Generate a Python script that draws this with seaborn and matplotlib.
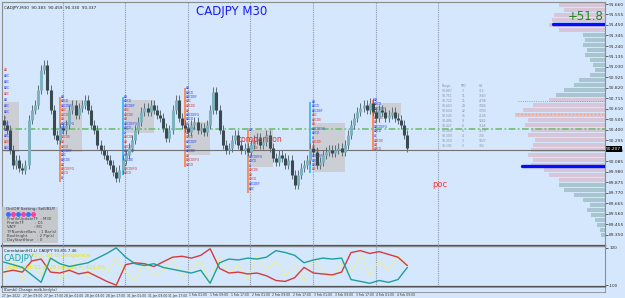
import matplotlib
matplotlib.use("Agg")
import matplotlib.pyplot as plt
import seaborn as sns
import numpy as np
import pandas as pd

# ---------------- data ----------------
closes = [
    90.45, 90.40, 90.20, 90.05, 90.10, 90.02, 90.00, 90.05, 90.50, 90.60,
    90.65, 90.80, 91.00, 91.05, 90.80, 90.60, 90.35, 90.30, 90.42, 90.40,
    90.45, 90.60, 90.65, 90.55, 90.62, 90.65, 90.70, 90.60, 90.45, 90.40,
    90.25, 90.20, 90.15, 90.10, 90.05, 89.98, 89.92, 90.00, 90.10, 90.15,
    90.22, 90.30, 90.40, 90.48, 90.58, 90.62, 90.58, 90.65, 90.60, 90.55,
    90.52, 90.42, 90.32, 90.40, 90.60, 90.70, 90.52, 90.45, 90.42, 90.38,
    90.45, 90.48, 90.40, 90.42, 90.38, 90.45, 90.60, 90.78, 90.60, 90.40,
    90.25, 90.20, 90.22, 90.30, 90.35, 90.25, 90.20, 90.22, 90.18, 90.25,
    90.30, 90.32, 90.25, 90.28, 90.35, 90.22, 90.12, 90.08, 90.15, 90.12,
    90.05, 90.10, 89.95, 89.85, 89.95, 90.02, 90.05, 90.10, 90.22, 90.18,
    90.05, 90.08, 90.15, 90.18, 90.20, 90.17, 90.20, 90.22, 90.18, 90.25,
    90.35, 90.45, 90.52, 90.58, 90.62, 90.65, 90.60, 90.67, 90.58, 90.52,
    90.60, 90.58, 90.52, 90.55, 90.58, 90.52, 90.50, 90.45, 90.35, 90.22,
]
first_open = 90.50

corr_cadjpy = [0.24, 0.10, -0.05, -0.45, -0.85, 0.45, 0.15, 0.00, 0.10, 0.20,
               0.45, 0.70, 1.00, 0.50, 0.15, 0.05, 0.15, -0.05, -0.15, -0.25,
               -0.35, -0.20, -0.90, 0.20, 0.40, 0.35, 0.45, 0.40, 0.50, 0.85,
               0.75, 0.60, 0.20, 0.35, 0.45, 0.40, 0.45, -0.70, -0.80, -0.90,
               -0.75, -0.85, -0.70, -0.05]
corr_other = [-0.30, -0.20, -0.30, 0.30, 0.40, -0.30, -0.35, -0.20, -0.40, -0.30,
              -0.55, -0.80, -1.00, 0.10, 0.20, 0.15, 0.00, 0.25, 0.50, 0.55,
              0.45, 0.60, 0.95, -0.10, -0.35, -0.30, -0.40, -0.35, -0.50, -0.75,
              -0.80, -0.60, -0.05, -0.35, -0.40, -0.45, -0.30, 0.75, 0.85, 0.70,
              0.80, 0.65, 0.50, 0.05]
divergence = [-0.6, 0.5, -0.8, 0.2, -0.5, 0.6, -0.7, -0.2, 0.3, -0.6,
              0.1, -0.4, 0.5, -0.3, -0.8, 0.2, -0.5, -0.2, 0.4, -0.6,
              -0.1, 0.3, -0.9, 0.5, -0.4, 0.1, -0.7, 0.6, -0.2, 0.3,
              -0.5, 0.1, -0.8, 0.4, -0.3, -0.6, 0.2, -0.4, 0.7, -0.5,
              0.3, -0.2, 0.6, 0.0]

# volume profile (levels from top price down, step 0.05)
profile_top = 91.675
profile_volume = [45, 40, 50, 52, 55, 45, 22, 20, 22, 18,
                  20, 15, 12, 10, 15, 25, 30, 40, 48, 55,
                  70, 80, 88, 75, 78, 72, 75, 68, 70, 72,
                  75, 70, 72, 60, 55, 45, 45, 40, 30, 22,
                  15, 18, 14, 10, 8, 5, 4]

day_labels = ["27 Jan 2022", "27 Jan 09:00", "27 Jan 17:00", "28 Jan 01:00",
              "28 Jan 09:00", "28 Jan 17:00", "31 Jan 01:00", "31 Jan 09:00",
              "31 Jan 17:00", "1 Feb 01:00", "1 Feb 09:00", "1 Feb 17:00",
              "2 Feb 01:00", "2 Feb 09:00", "2 Feb 17:00", "3 Feb 01:00",
              "3 Feb 09:00", "3 Feb 17:00", "4 Feb 01:00", "4 Feb 09:00"]

price_ticks = [91.66, 91.555, 91.45, 91.345, 91.24, 91.135, 91.03, 90.925,
               90.82, 90.715, 90.61, 90.505, 90.40, 90.295, 90.19, 90.085,
               89.98, 89.875, 89.77, 89.665, 89.56, 89.455, 89.35]

# daily value areas: (start candle, end candle, low, high)
va_start = [0, 19, 39, 59, 79, 99, 119]
va_end = [5, 25, 48, 66, 86, 109, 127]
va_low = [90.18, 90.18, 90.37, 90.15, 90.03, 89.98, 90.53]
va_high = [90.68, 90.70, 90.70, 90.48, 90.40, 90.47, 90.67]
# day range lines
dr_pos = [18, 38, 58, 78, 98, 118]
dr_low = [89.88, 89.95, 90.03, 89.77, 89.97, 90.20]
dr_high = [90.73, 90.73, 90.82, 90.40, 90.68, 90.70]
dr_color = ["#ff7f3f", "#2fb4f0", "#ff7f3f", "#ff7f3f", "#2fb4f0", "#ff7f3f"]
tpo_rows = ["AB", "ABCD", "ABCDEF", "ABC", "ABCDE", "AB", "ABCDEFG", "ABCD", "A", "ABCDE"]

# stats table (price, count, volume)
table_price = ["90.807", "90.751", "90.722", "90.663", "90.604", "90.545", "90.486",
               "90.427", "90.368", "90.309", "90.250", "90.191"]
table_cnt = ["3", "11", "21", "24", "22", "15", "9", "8", "6", "4", "3", "2"]
table_vol = ["312", "1563", "2708", "3404", "3093", "2104", "1242", "1146", "1179", "730", "1027", "302"]

green_level = 90.41
current_price = 90.20
blue_levels = [91.46, 90.04]
orange_level = 90.56
gray_level = 90.69
comparison_price = 90.30

# ---------------- figure ----------------
sns.set_theme(style="white")
plt.rcParams["font.family"] = ["DejaVu Sans"]
BG = "#d5e7fc"
W, H = 625, 298
fig = plt.figure(figsize=(W / 100, H / 100), dpi=100, facecolor=BG)


def fax(x0, y0, x1, y1):
    return fig.add_axes([x0 / W, 1 - y1 / H, (x1 - x0) / W, (y1 - y0) / H])


PX = 3.13  # pixel per candle
XL = (-0.5, (605 - 2) / PX - 0.5)

ax = fax(2, 2, 605, 246)
ax.set_facecolor(BG)
ymin, ymax = 89.24, 91.68
ax.set_ylim(ymin, ymax)
ax.set_xlim(*XL)

# volume profile on a twin axis
axp = ax.twiny()
vmax = max(profile_volume)
axp.set_xlim(vmax * 603 / 90, 0)
levels = [profile_top - 0.05 * k - 0.025 for k in range(len(profile_volume))]
pcol = []
for lv in levels:
    if lv > 91.38 or (90.72 > lv > 89.88):
        pcol.append("#d6c6d8")
    else:
        pcol.append("#a9c5d0")
axp.barh(levels, profile_volume, height=0.042, color=pcol, edgecolor="none", zorder=1)
axp.axis("off")
ax.set_zorder(axp.get_zorder() + 1)
ax.patch.set_visible(False)
axp.patch.set_facecolor(BG)
axp.patch.set_visible(True)

# separators
for k in range(7):
    xi = (61 + 62.6 * k - 2) / PX
    ax.axvline(xi, color="#8a97a8", lw=0.8, ls=(0, (1, 1)), zorder=1)

# value-area boxes
for s, e, lo, hi in zip(va_start, va_end, va_low, va_high):
    ax.add_patch(plt.Rectangle((s, lo), e - s, hi - lo, color="#c8c8c8", alpha=0.75, lw=0, zorder=2))
for p, lo, hi, c in zip(dr_pos, dr_low, dr_high, dr_color):
    ax.vlines(p, lo, hi, color=c, lw=1.2, zorder=3)
    # TPO letter rows
    lv = hi
    k = 0
    while lv > lo:
        col = "#2a3cff" if (k // 3) % 2 == 0 else "#e03030"
        near_cmp = (74 < p < 90) and abs(lv - comparison_price) < 0.06
        if not near_cmp:
            ax.text(p + 0.4, lv, tpo_rows[k % len(tpo_rows)], fontsize=2.2, color=col,
                    va="center", ha="left", zorder=4)
        lv -= 0.045
        k += 1

# left margin labels
for k in range(14):
    ax.text(0.001, 91.0 - 0.06 * k, tpo_rows[k % len(tpo_rows)][:3], fontsize=2.2,
            color="#2a3cff" if k % 4 else "#e03030", va="center", ha="left", zorder=4)

# stats table
tx = (440 - 2) / PX
ax.text(tx, 90.84, "Range", fontsize=2.2, color="#8090a0", va="center")
ax.text(tx + 6, 90.84, "TPO", fontsize=2.2, color="#8090a0", va="center")
ax.text(tx + 12, 90.84, "Vol", fontsize=2.2, color="#8090a0", va="center")
for k, (a, b, c) in enumerate(zip(table_price, table_cnt, table_vol)):
    yy = 90.79 - 0.05 * k
    ax.text(tx, yy, a, fontsize=2.2, color="#8090a0", va="center")
    ax.text(tx + 6.5, yy, b, fontsize=2.2, color="#8090a0", va="center")
    ax.text(tx + 12, yy, c, fontsize=2.2, color="#8090a0", va="center")

# horizontal levels
ax.axhline(green_level, color="#6fbf6f", lw=1.2, ls=(0, (4, 1.5, 1, 1.5)), zorder=3)
ax.axhline(current_price, color="#707070", lw=0.8, zorder=3)
ax.axhline(gray_level, xmin=(518 - 2) / 603, xmax=1, color="#8a8aa0", lw=0.6, ls=":", zorder=3)
ax.axhline(orange_level, xmin=(517 - 2) / 603, xmax=1, color="#ff9a6a", lw=1.0, ls=":", zorder=3)
ax.axhline(blue_levels[0], xmin=(553 - 2) / 603, xmax=1, color="#0010ff", lw=2.4, zorder=4)
ax.axhline(blue_levels[1], xmin=(522 - 2) / 603, xmax=1, color="#0010ff", lw=2.4, zorder=4)

# candles
opens = [first_open] + closes[:-1]
df = pd.DataFrame({"i": range(len(closes)), "open": opens, "close": closes})
df["hi"] = df[["open", "close"]].max(axis=1)
df["lo"] = df[["open", "close"]].min(axis=1)
ax.vlines(df["i"], df["lo"] - 0.045, df["hi"] + 0.045, color="#5d6d73", lw=0.7, zorder=5)
up = df[df["close"] >= df["open"]]
dn = df[df["close"] < df["open"]]
ax.vlines(up["i"], up["open"], up["close"], color="#7fb2bf", lw=2.2, zorder=6)
ax.vlines(dn["i"], dn["close"], dn["open"], color="#3b4a50", lw=2.2, zorder=6)

# axis styling
ax.yaxis.tick_right()
ax.set_yticks(price_ticks)
ax.set_yticklabels([f"{t:.3f}" for t in price_ticks], fontsize=3.2, color="#303030")
ax.tick_params(axis="y", length=2, width=0.5, pad=1, colors="#303030")
ax.set_xticks([])
for s in ax.spines.values():
    s.set_color("#8c8c8c")
    s.set_linewidth(0.8)

# texts
ax.text(0.003, 0.985, "CADJPY,M30  90.383  90.459  90.330  90.337", transform=ax.transAxes,
        fontsize=3, color="#202020", va="top", ha="left")
ax.text(230 / 603, 0.963, "CADJPY M30", transform=ax.transAxes, fontsize=8.5,
        color="#1a1aff", va="center", ha="center")
ax.text(0.997, 0.94, "+51.8", transform=ax.transAxes, fontsize=8.5,
        color="#1a8a1a", va="center", ha="right", zorder=7)
ax.text((432 - 2) / 603, 1 - (184 - 2) / 244, "poc", transform=ax.transAxes, fontsize=6,
        color="#ff3030", va="center", ha="left")
ax.text((238 - 2) / 603, 1 - (140 - 2) / 244, "comparison", transform=ax.transAxes, fontsize=5.5,
        color="#e03030", va="center", ha="left", zorder=7)
ax.text(1.002, 1 - (149 - 2) / 244, "90.207", transform=ax.transAxes, fontsize=3.2,
        color="white", va="center", ha="left",
        bbox=dict(boxstyle="square,pad=0.15", fc="black", ec="none"), zorder=8, clip_on=False)

# info panel
ax.add_patch(plt.Rectangle(((2 - 2) / 603, 1 - (243 - 2) / 244), 56 / 603, 36 / 244,
                           transform=ax.transAxes, color="#c4c4c4", alpha=0.85, lw=0, zorder=7))
ax.text(0.006, 1 - (209 - 2) / 244, "On/Off Setting: Sell/BUY", transform=ax.transAxes,
        fontsize=3, color="#303060", va="center", zorder=8)
for k, c in enumerate(["#3a6cff", "#ff3aa0", "#3a6cff", "#ff3aa0", "#3a6cff", "#ff3aa0"]):
    ax.plot((6 + 5 * k) / 603, 1 - (214 - 2) / 244, "o", ms=2.5, color=c,
            transform=ax.transAxes, zorder=8)
info = ["ProfileUpdateTF  : M30", "ProfileTF         : D1", "VATF              : M1",
        "TFNumberBars  : 1 Bar(s)", "BoxHeight        : 2 Pip(s)", "DayStartHour   : 0"]
for k, t in enumerate(info):
    ax.text(0.008, 1 - (219 + 4.2 * k - 2) / 244, t, transform=ax.transAxes,
            fontsize=2.8, color="#404040", va="center", zorder=8)

# ---------------- correlation panel ----------------
axc = fax(2, 246, 605, 287)
axc.set_facecolor(BG)
cidx = list(range(0, 3 * len(corr_cadjpy), 3))
cdf = pd.DataFrame({"i": cidx, "teal": corr_cadjpy, "red": corr_other, "yel": divergence})
sns.lineplot(data=cdf, x="i", y="yel", ax=axc, color="#eef08a", lw=0.6, zorder=2)
sns.lineplot(data=cdf, x="i", y="red", ax=axc, color="#d23c3c", lw=1.0, zorder=3)
sns.lineplot(data=cdf, x="i", y="teal", ax=axc, color="#1f9e9e", lw=1.0, zorder=4)
axc.set_xlim(*XL)
axc.set_ylim(-1.1, 1.1)
for k in range(7):
    xi = (61 + 62.6 * k - 2) / PX
    axc.axvline(xi, color="#8a97a8", lw=0.8, ls=(0, (1, 1)), zorder=1)
axc.set_xlabel("")
axc.set_ylabel("")
axc.set_xticks([])
axc.yaxis.tick_right()
axc.set_yticks([1.0, -1.0])
axc.set_yticklabels(["100", "-100"], fontsize=3, color="#303030")
axc.tick_params(axis="y", length=2, width=0.5, pad=1)
for s in axc.spines.values():
    s.set_color("#8c8c8c")
    s.set_linewidth(0.8)
axc.spines["top"].set_color("#505050")
axc.spines["top"].set_linewidth(1.6)
axc.spines["bottom"].set_color("#505050")
axc.spines["bottom"].set_linewidth(1.6)
axc.text(0.003, 0.93, "Correlation(H1,L) CADJPY 93.8% 7.46", transform=axc.transAxes,
         fontsize=2.8, color="#202020", va="top")
axc.text(0.003, 0.70, "CADJPY", transform=axc.transAxes, fontsize=6, color="#1f9e9e", va="center")
axc.text(0.047, 0.76, "72% of divergence", transform=axc.transAxes, fontsize=4.6,
         color="#e8e800", va="center")
axc.text(0.005, 0.50, "Correlation D1 @ 20 candles = -100.0%", transform=axc.transAxes,
         fontsize=3.6, color="#e8e800", va="center")

# ---------------- bottom strip ----------------
axb = fax(2, 287, 605, 292)
axb.set_facecolor(BG)
axb.set_xlim(*XL)
axb.set_xticks([])
axb.set_yticks([])
for s in axb.spines.values():
    s.set_color("#8c8c8c")
    s.set_linewidth(0.6)
axb.text(0.003, 0.5, "(Zumbi).Change.mdb.lindy(x)", transform=axb.transAxes,
         fontsize=2.6, color="#303030", va="center")

for k, lab in enumerate(day_labels):
    xpix = 2 + 20.8 * k
    fig.text(xpix / W, 1 - 295.5 / H, lab, fontsize=2.2, color="#303030", va="center", ha="left")

fig.savefig("out.png", dpi=100, facecolor=BG)
